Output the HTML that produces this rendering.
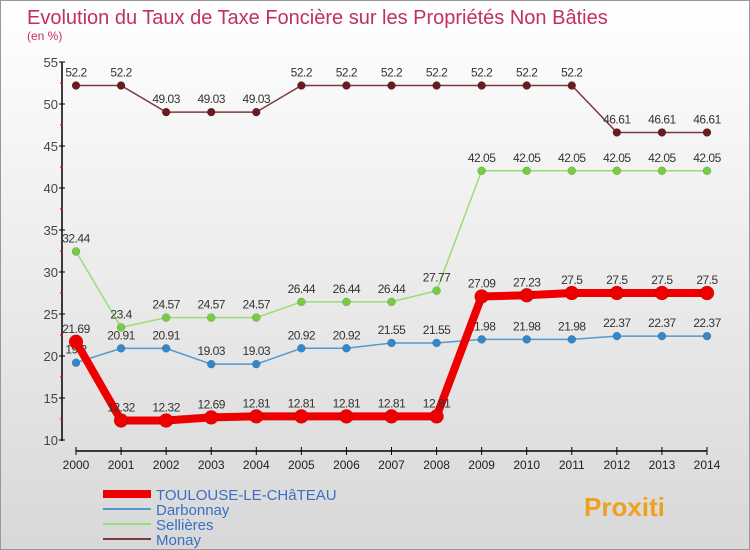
<!DOCTYPE html>
<html><head><meta charset="utf-8"><style>
body{margin:0}
#c{width:750px;height:550px;position:relative;overflow:hidden;background:linear-gradient(#ffffff,#d8d8d8);border:1px solid #999;box-sizing:border-box;font-family:"Liberation Sans",sans-serif}
text{font-family:"Liberation Sans",sans-serif}
</style></head><body>
<div id="c">
<svg id="s" width="750" height="550"></svg>
</div>
<script>
const years=[2000,2001,2002,2003,2004,2005,2006,2007,2008,2009,2010,2011,2012,2013,2014];
const toulouse=[21.69,12.32,12.32,12.69,12.81,12.81,12.81,12.81,12.81,27.09,27.23,27.5,27.5,27.5,27.5];
const darbonnay=[19.2,20.91,20.91,19.03,19.03,20.92,20.92,21.55,21.55,21.98,21.98,21.98,22.37,22.37,22.37];
const sellieres=[32.44,23.4,24.57,24.57,24.57,26.44,26.44,26.44,27.77,42.05,42.05,42.05,42.05,42.05,42.05];
const monay=[52.2,52.2,49.03,49.03,49.03,52.2,52.2,52.2,52.2,52.2,52.2,52.2,46.61,46.61,46.61];
const yTicks=[10,15,20,25,30,35,40,45,50,55];
const seriesNames=["TOULOUSE-LE-CHâTEAU","Darbonnay","Sellières","Monay"];
const NS="http://www.w3.org/2000/svg";
const svg=document.getElementById('s');
function X(i){return 75+i*(706-75)/(years.length-1);}
function Y(v){return 439-(v-10)*(439-61)/45;}
function el(t,a,p){const e=document.createElementNS(NS,t);for(const k in a)e.setAttribute(k,a[k]);(p||svg).appendChild(e);return e;}
// title
let t=el('text',{x:26,y:23,'font-size':20,fill:'#c0315e'});t.textContent="Evolution du Taux de Taxe Foncière sur les Propriétés Non Bâties";

t=el('text',{x:26,y:39,'font-size':12,fill:'#c0315e'});t.textContent="(en %)";

// axes
let a=el('line',{x1:61,y1:61,x2:61,y2:440,stroke:'#000','stroke-width':1.5});

a=el('line',{x1:75,y1:450,x2:706,y2:450,stroke:'#000','stroke-width':1.5});

yTicks.forEach((v,i)=>{
 el('line',{x1:58,y1:Y(v),x2:64,y2:Y(v),stroke:'#000'});
 if(i<yTicks.length-1) el('line',{x1:59,y1:Y(v+2.5),x2:62,y2:Y(v+2.5),stroke:'#e00'});
 const tt=el('text',{x:57,y:Y(v)+5,'font-size':13,'text-anchor':'end',fill:'#444'});tt.textContent=v;
 
});
years.forEach((y,i)=>{
 el('line',{x1:X(i),y1:446,x2:X(i),y2:454,stroke:'#000'});
 const tt=el('text',{x:X(i),y:468,'font-size':12,'text-anchor':'middle',fill:'#222'});tt.textContent=y;
 
});
function series(data,color,dot,lw,r,name){
 const g=el('g',{});
 el('polyline',{points:data.map((v,i)=>X(i)+','+Y(v)).join(' '),fill:'none',stroke:color,'stroke-width':lw,'stroke-linejoin':'round'},g);
 data.forEach((v,i)=>{
  const c=el('circle',{cx:X(i),cy:Y(v),r:r,fill:dot,stroke:'rgba(0,0,0,0.25)','stroke-width':0.5},g);
  
  const tt=el('text',{x:X(i),y:Y(v)-9,'font-size':12,'text-anchor':'middle',fill:'#333','letter-spacing':'-0.5'},g);tt.textContent=v;
 });
}
series(monay,'#7a3a3e','#6b1a20',1.5,4,'series-monay');
series(sellieres,'#99dd77','#77cc44',1.5,4,'series-sellieres');
series(darbonnay,'#5599cc','#3388cc',1.5,4,'series-darbonnay');
series(toulouse,'#ee0000','#ee0000',8,7,'series-toulouse');
// legend
const lc=[['#ee0000',8],['#5599cc',2],['#99dd77',2],['#7a3a3e',2]];
seriesNames.forEach((n,i)=>{
 const y=493+i*15;
 const g=el('g',{});
 el('line',{x1:102,y1:y,x2:150,y2:y,stroke:lc[i][0],'stroke-width':lc[i][1]},g);
 const tt=el('text',{x:155,y:y+6,'font-size':15,fill:'#3a6fc4'},g);tt.textContent=n;
});
// logo
t=el('text',{x:583,y:515,'font-size':26,'font-weight':'bold',fill:'#f0a020'});t.textContent="Proxiti";

</script>
</body></html>
